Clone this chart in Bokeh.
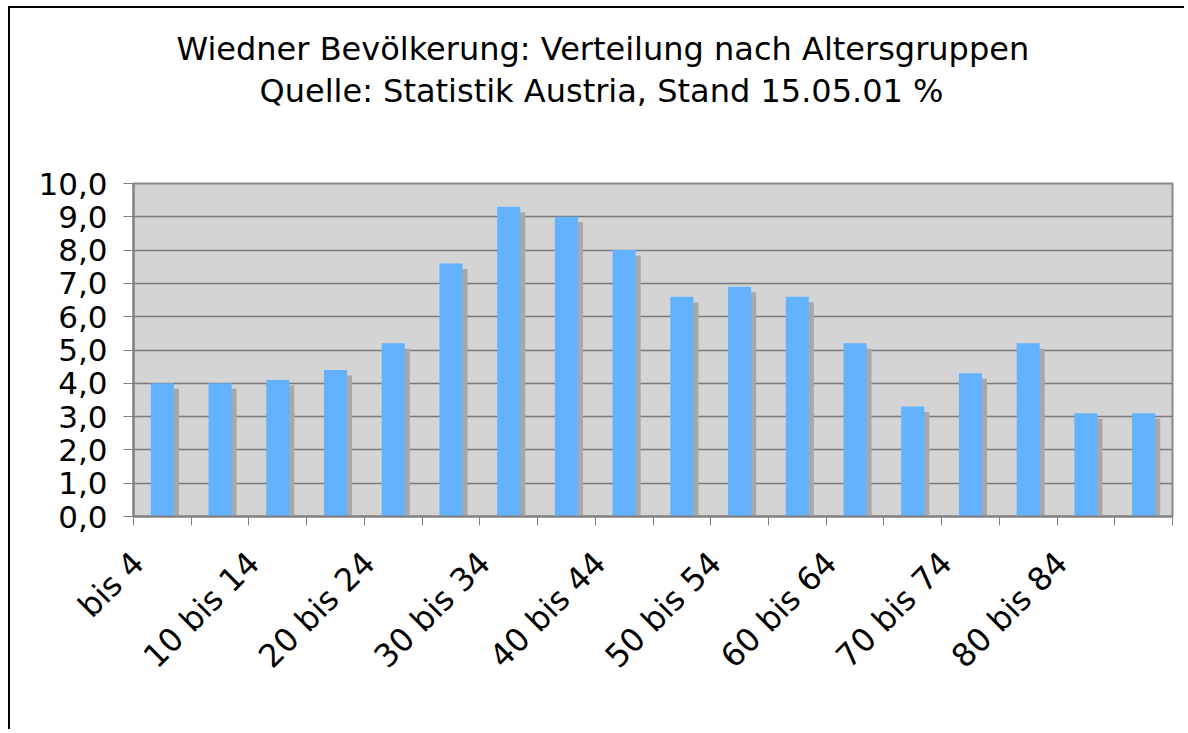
from bokeh.plotting import figure
from bokeh.models import Title, FixedTicker, LinearAxis
from bokeh.transform import dodge
from bokeh.embed import file_html
from bokeh.resources import INLINE
import math

# ---- data ----
categories = ["bis 4", "5 bis 9", "10 bis 14", "15 bis 19", "20 bis 24", "25 bis 29",
              "30 bis 34", "35 bis 39", "40 bis 44", "45 bis 49", "50 bis 54", "55 bis 59",
              "60 bis 64", "65 bis 69", "70 bis 74", "75 bis 79", "80 bis 84", "85 und älter"]
values = [4.0, 4.0, 4.1, 4.4, 5.2, 7.6, 9.3, 9.0, 8.0, 6.6, 6.9, 6.6, 5.2, 3.3, 4.3, 5.2, 3.1, 3.1]
y_ticks = [0, 1, 2, 3, 4, 5, 6, 7, 8, 9, 10]
y_tick_labels = ["0,0", "1,0", "2,0", "3,0", "4,0", "5,0", "6,0", "7,0", "8,0", "9,0", "10,0"]
title_line1 = "Wiedner Bevölkerung: Verteilung nach Altersgruppen"
title_line2 = "Quelle: Statistik Austria, Stand 15.05.01 %"

FONT = "DejaVu Sans"
n = len(categories)
xs = [i + 0.5 for i in range(n)]
source = dict(x=xs, top=values)

p = figure(width=1176, height=723, x_range=(0, n), y_range=(0, 10),
           output_backend="svg", toolbar_location=None, title=None,
           min_border_left=123, min_border_right=14, min_border_top=175, min_border_bottom=215)

p.background_fill_color = "#d4d4d4"
p.border_fill_color = "white"
p.outline_line_color = "#8a8a8a"
p.outline_line_width = 2
p.styles = {"margin-left": "8px", "margin-top": "6px",
            "border-left": "2px solid black", "border-top": "2px solid black"}

# titles (first added is closest to plot)
spacer = Title(text=" ", align="center", text_font=FONT, text_font_size="10px", standoff=60)
t2 = Title(text=title_line2, align="left", offset=126, text_font=FONT, text_font_size="32px",
           text_font_style="normal", text_color="black", standoff=2)
t1 = Title(text=title_line1, align="left", offset=43, text_font=FONT, text_font_size="32px",
           text_font_style="normal", text_color="black", standoff=2)
p.add_layout(spacer, "above")
p.add_layout(t2, "above")
p.add_layout(t1, "above")

# shadow bars
p.vbar(x=dodge("x", 0.087), top=dodge("top", -0.165), width=0.4, source=source,
       fill_color="#a8a8a8", line_color=None)
# main bars
p.vbar(x="x", top="top", width=0.4, source=source, fill_color="#63b2ff", line_color=None)

# y axis
p.yaxis.ticker = FixedTicker(ticks=y_ticks)
p.yaxis.major_label_overrides = {t: lab for t, lab in zip(y_ticks, y_tick_labels)}
p.yaxis.major_label_text_font = FONT
p.yaxis.major_label_text_font_size = "31px"
p.yaxis.major_label_text_color = "black"
p.yaxis.axis_line_color = "#808080"
p.yaxis.axis_line_width = 2
p.yaxis.major_tick_line_color = "#808080"
p.yaxis.major_tick_out = 10
p.yaxis.major_tick_in = 0
p.yaxis.minor_tick_line_color = None
p.yaxis.major_label_standoff = 16

# x axis 1: tick marks at the category boundaries, no labels
x_ticks = list(range(n + 1))
p.xaxis.ticker = FixedTicker(ticks=x_ticks)
p.xaxis.major_label_overrides = {t: "" for t in x_ticks}
p.xaxis.major_label_text_font_size = "1px"
p.xaxis.major_label_standoff = 0
p.xaxis.axis_line_color = "#808080"
p.xaxis.axis_line_width = 2
p.xaxis.major_tick_line_color = "#808080"
p.xaxis.major_tick_out = 9
p.xaxis.major_tick_in = 0
p.xaxis.minor_tick_line_color = None

# x axis 2: labels of every other category
label_idx = [i for i in range(n) if i % 2 == 0 and i < n - 1]
label_pos = [i + 0.08 for i in label_idx]
lab_axis = LinearAxis(ticker=FixedTicker(ticks=label_pos),
                      major_label_overrides={pos: categories[i] for pos, i in zip(label_pos, label_idx)})
lab_axis.axis_line_color = None
lab_axis.major_tick_line_color = None
lab_axis.minor_tick_line_color = None
lab_axis.major_tick_out = 0
lab_axis.major_tick_in = 0
lab_axis.major_label_orientation = math.pi / 4
lab_axis.major_label_text_font = FONT
lab_axis.major_label_text_font_size = "32px"
lab_axis.major_label_text_color = "black"
lab_axis.major_label_standoff = 32
p.add_layout(lab_axis, "below")

# grid
p.xgrid.grid_line_color = None
p.ygrid.ticker = FixedTicker(ticks=y_ticks)
p.ygrid.grid_line_color = "#7a7a7a"
p.ygrid.grid_line_width = 1.5

open("out.html", "w").write(file_html(p, INLINE))
